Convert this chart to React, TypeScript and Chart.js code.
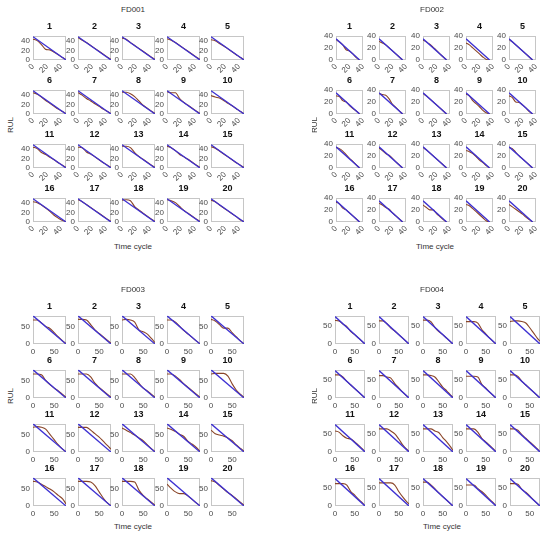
import React, { useEffect, useRef } from 'react';
import { Chart, registerables } from 'chart.js';
Chart.register(...registerables);

const FONT = '"Liberation Sans", Arial, Helvetica, sans-serif';

// ---------- FD001 ----------
const FD001_X = [0, 6, 12, 18, 24, 30, 36, 42, 47];
const FD001_TRUE_X = [0, 47];
const FD001_TRUE_Y = [48, 0];
const FD001_XTICKS = [0, 20, 40];
const FD001_YTICKS = [0, 20, 40];
const FD001_PRED = [
  [43, 40, 32, 22, 21, 16, 11, 5, 1],
  [46, 41, 36, 30, 24, 18, 12, 6, 1],
  [45, 43, 36, 30, 24, 18, 12, 6, 1],
  [44, 41, 36, 30, 24, 18, 12, 6, 1],
  [42, 40, 34, 29, 23, 17, 11, 5, 1],
  [44, 41, 35, 28, 22, 16, 10, 5, 1],
  [44, 39, 32, 27, 21, 16, 10, 5, 1],
  [45, 45, 42, 36, 27, 18, 12, 6, 1],
  [46, 44, 44, 32, 24, 18, 12, 6, 1],
  [38, 35, 33, 28, 22, 17, 11, 5, 1],
  [43, 40, 32, 28, 22, 17, 11, 6, 1],
  [43, 42, 33, 29, 23, 17, 11, 6, 1],
  [45, 45, 42, 32, 24, 18, 12, 6, 1],
  [45, 42, 36, 28, 23, 18, 12, 6, 1],
  [44, 41, 35, 29, 23, 17, 11, 6, 1],
  [42, 40, 35, 29, 22, 14, 8, 3, 1],
  [46, 42, 36, 30, 24, 18, 12, 6, 1],
  [45, 46, 44, 32, 25, 18, 12, 6, 1],
  [46, 44, 40, 32, 24, 18, 12, 6, 1],
  [45, 42, 35, 29, 23, 17, 11, 4, 1],
];

// ---------- FD002 ----------
const FD002_X = [0, 5, 10, 15, 20, 25, 30, 35];
const FD002_TRUE_X = [0, 35];
const FD002_TRUE_Y = [35, 0];
const FD002_XTICKS = [0, 20, 40];
const FD002_YTICKS = [0, 20, 40];
const FD002_PRED = [
  [34, 30, 25, 17, 15, 10, 4, 0],
  [31, 28, 25, 20, 15, 10, 5, 0],
  [33, 30, 26, 21, 16, 10, 5, 0],
  [28, 25, 20, 15, 10, 5, 1, 0],
  [34, 30, 25, 20, 15, 10, 5, 0],
  [30, 29, 22, 20, 14, 9, 5, 0],
  [34, 32, 31, 25, 16, 11, 5, 0],
  [34, 30, 25, 20, 15, 10, 5, 0],
  [33, 30, 22, 17, 12, 6, 2, 0],
  [30, 27, 20, 19, 15, 10, 4, 0],
  [34, 32, 28, 22, 16, 11, 5, 0],
  [33, 29, 24, 21, 16, 10, 5, 0],
  [34, 30, 25, 20, 15, 10, 5, 0],
  [29, 27, 24, 19, 13, 9, 4, 0],
  [34, 32, 26, 20, 15, 10, 5, 0],
  [33, 30, 23, 20, 15, 10, 5, 0],
  [31, 28, 24, 21, 15, 10, 5, 0],
  [28, 24, 20, 20, 14, 9, 4, 0],
  [29, 27, 22, 17, 12, 7, 2, 0],
  [29, 25, 21, 17, 13, 8, 4, 0],
];

// ---------- FD003 ----------
const FD003_X = [0, 10, 20, 30, 40, 50, 60, 70, 78];
const FD003_TRUE_X = [0, 78];
const FD003_TRUE_Y = [80, 0];
const FD003_XTICKS = [0, 50];
const FD003_YTICKS = [0, 50];
const FD003_PRED = [
  [68, 68, 60, 50, 44, 32, 20, 9, 1],
  [70, 70, 68, 55, 40, 30, 20, 10, 2],
  [68, 70, 68, 62, 40, 35, 28, 15, 4],
  [68, 68, 62, 50, 38, 28, 18, 8, 1],
  [70, 65, 55, 45, 45, 32, 20, 8, 1],
  [68, 68, 66, 50, 38, 28, 20, 10, 2],
  [68, 68, 68, 60, 42, 30, 20, 10, 2],
  [68, 68, 68, 58, 42, 28, 20, 10, 2],
  [68, 68, 62, 52, 40, 30, 20, 10, 2],
  [68, 70, 70, 70, 62, 40, 22, 10, 2],
  [70, 72, 70, 65, 50, 35, 20, 8, 1],
  [70, 70, 70, 62, 52, 42, 30, 18, 8],
  [68, 62, 55, 48, 40, 32, 20, 9, 1],
  [68, 64, 58, 50, 44, 30, 22, 12, 2],
  [62, 52, 48, 45, 40, 32, 20, 10, 2],
  [70, 68, 62, 55, 48, 40, 30, 20, 6],
  [70, 70, 70, 68, 58, 40, 22, 8, 1],
  [70, 70, 70, 68, 45, 30, 20, 10, 2],
  [62, 50, 40, 35, 35, 28, 18, 8, 1],
  [72, 68, 58, 48, 38, 30, 20, 10, 2],
];

// ---------- FD004 ----------
const FD004_X = [0, 10, 20, 30, 40, 50, 60, 70, 76];
const FD004_TRUE_X = [0, 76];
const FD004_TRUE_Y = [76, 0];
const FD004_XTICKS = [0, 50];
const FD004_YTICKS = [0, 50];
const FD004_PRED = [
  [65, 64, 55, 48, 34, 26, 16, 6, 0],
  [64, 64, 56, 44, 36, 26, 16, 6, 0],
  [66, 66, 62, 46, 34, 26, 16, 6, 0],
  [62, 62, 62, 58, 40, 28, 16, 6, 0],
  [62, 64, 64, 62, 58, 45, 30, 15, 8],
  [64, 64, 58, 46, 36, 26, 16, 6, 0],
  [62, 62, 58, 55, 40, 28, 16, 6, 0],
  [64, 64, 62, 58, 45, 30, 20, 8, 2],
  [60, 60, 60, 58, 38, 28, 16, 6, 0],
  [64, 64, 60, 46, 36, 26, 16, 6, 0],
  [58, 55, 45, 38, 36, 28, 18, 8, 0],
  [64, 64, 64, 58, 50, 36, 20, 8, 2],
  [64, 64, 64, 58, 54, 40, 28, 14, 4],
  [64, 64, 64, 55, 38, 28, 18, 8, 0],
  [64, 64, 60, 48, 38, 28, 18, 8, 0],
  [62, 62, 62, 58, 40, 30, 18, 8, 0],
  [64, 64, 64, 64, 58, 40, 25, 12, 6],
  [66, 66, 58, 48, 36, 26, 16, 6, 0],
  [58, 58, 58, 48, 40, 30, 18, 8, 0],
  [62, 62, 60, 46, 38, 28, 16, 6, 0],
];

const SUB_TITLES = Array.from({ length: 20 }, (_, i) => String(i + 1));

type Panel = {
  name: string;
  x: number[]; trueX: number[]; trueY: number[]; pred: number[][];
  xTicks: number[]; yTicks: number[]; xMax: number; yMax: number; rotate: boolean;
  left0: number; colStep: number; w: number; top0: number; rowStep: number; h: number;
  titleX: number; titleY: number; rulX: number; rulY: number; timeX: number; timeY: number;
};

const PANELS: Panel[] = [
  { name: 'FD001', x: FD001_X, trueX: FD001_TRUE_X, trueY: FD001_TRUE_Y, pred: FD001_PRED,
    xTicks: FD001_XTICKS, yTicks: FD001_YTICKS, xMax: 47, yMax: 50, rotate: true,
    left0: 33.3, colStep: 44.4, w: 32.5, top0: 31.7, rowStep: 54.1, h: 28.3,
    titleX: 133, titleY: 10, rulX: 11, rulY: 125, timeX: 133, timeY: 247 },
  { name: 'FD002', x: FD002_X, trueX: FD002_TRUE_X, trueY: FD002_TRUE_Y, pred: FD002_PRED,
    xTicks: FD002_XTICKS, yTicks: FD002_YTICKS, xMax: 40, yMax: 40, rotate: true,
    left0: 336, colStep: 43.3, w: 27.3, top0: 31.7, rowStep: 54.1, h: 28.3,
    titleX: 432, titleY: 10, rulX: 315, rulY: 125, timeX: 435, timeY: 247 },
  { name: 'FD003', x: FD003_X, trueX: FD003_TRUE_X, trueY: FD003_TRUE_Y, pred: FD003_PRED,
    xTicks: FD003_XTICKS, yTicks: FD003_YTICKS, xMax: 78, yMax: 80, rotate: false,
    left0: 33.3, colStep: 44.4, w: 32.5, top0: 312, rowStep: 54.1, h: 31.5,
    titleX: 133, titleY: 290, rulX: 11, rulY: 396, timeX: 133, timeY: 527 },
  { name: 'FD004', x: FD004_X, trueX: FD004_TRUE_X, trueY: FD004_TRUE_Y, pred: FD004_PRED,
    xTicks: FD004_XTICKS, yTicks: FD004_YTICKS, xMax: 76, yMax: 78, rotate: false,
    left0: 335, colStep: 43.75, w: 30, top0: 312, rowStep: 54.1, h: 31.5,
    titleX: 432, titleY: 290, rulX: 315, rulY: 396, timeX: 442, timeY: 527 },
];

const ML = 26, MT = 4, MR = 12, MB = 22;

const boxPlugin = {
  id: 'box',
  beforeDatasetsDraw(c: any) {
    const { ctx, chartArea: a } = c;
    ctx.save();
    ctx.strokeStyle = '#c6c6c6';
    ctx.lineWidth = 1;
    ctx.strokeRect(Math.round(a.left) + 0.5, Math.round(a.top) + 0.5, Math.round(a.width) - 1, Math.round(a.height) - 1);
    ctx.restore();
  },
};

function Sub({ p, i }: { p: Panel; i: number }) {
  const ref = useRef<HTMLCanvasElement>(null);
  const col = i % 5, row = Math.floor(i / 5);
  const bl = Math.round(p.left0 + col * p.colStep);
  const bt = Math.round(p.top0 + row * p.rowStep);
  const w = Math.round(p.w), h = Math.round(p.h);
  useEffect(() => {
    const chart = new Chart(ref.current as HTMLCanvasElement, {
      type: 'line',
      data: {
        datasets: [
          { data: p.trueX.map((x, k) => ({ x, y: p.trueY[k] })), borderColor: '#3d30d2', borderWidth: 1.3, pointRadius: 0 },
          { data: p.x.map((x, k) => ({ x, y: p.pred[i][k] })), borderColor: '#8a4528', borderWidth: 1.1, pointRadius: 0, cubicInterpolationMode: 'monotone' },
        ],
      } as any,
      options: {
        animation: false,
        responsive: false,
        events: [],
        layout: { autoPadding: false, padding: { left: 0, top: MT, right: MR, bottom: 0 } },
        plugins: { legend: { display: false }, tooltip: { enabled: false }, title: { display: false } },
        scales: {
          x: {
            type: 'linear', min: 0, max: p.xMax,
            grid: { display: false, drawTicks: false }, border: { display: false },
            afterBuildTicks: (s: any) => { s.ticks = p.xTicks.map((v) => ({ value: v })); },
            afterFit: (s: any) => { s.height = MB; },
            ticks: { font: { size: 8, family: FONT }, color: '#4a4a4a', padding: p.rotate ? 2 : 3,
              minRotation: p.rotate ? 45 : 0, maxRotation: p.rotate ? 45 : 0, autoSkip: false },
          },
          y: {
            type: 'linear', min: 0, max: p.yMax,
            grid: { display: false, drawTicks: false }, border: { display: false },
            afterBuildTicks: (s: any) => { s.ticks = p.yTicks.map((v) => ({ value: v })); },
            afterFit: (s: any) => { s.width = ML; },
            ticks: { font: { size: 8, family: FONT }, color: '#4a4a4a', padding: 3, autoSkip: false },
          },
        },
      } as any,
      plugins: [boxPlugin],
    });
    return () => chart.destroy();
  }, []);
  return (
    <>
      <canvas
        ref={ref}
        width={w + ML + MR}
        height={h + MT + MB}
        style={{ position: 'absolute', left: bl - ML, top: bt - MT, width: w + ML + MR, height: h + MT + MB }}
      />
      <div style={{ position: 'absolute', left: bl, top: bt - 11, width: w, textAlign: 'center', fontSize: 9, fontWeight: 'bold', lineHeight: '10px', color: '#111', fontFamily: FONT }}>
        {SUB_TITLES[i]}
      </div>
    </>
  );
}

function Label({ x, y, text, rot }: { x: number; y: number; text: string; rot?: boolean }) {
  return (
    <div style={{ position: 'absolute', left: x, top: y, transform: `translate(-50%, -50%)${rot ? ' rotate(-90deg)' : ''}`,
      fontSize: 8, fontFamily: FONT, color: '#333', whiteSpace: 'nowrap', lineHeight: '10px' }}>
      {text}
    </div>
  );
}

export default function App() {
  return (
    <div style={{ position: 'fixed', left: 0, top: 0, width: 550, height: 536, background: '#fff', overflow: 'hidden' }}>
      {PANELS.map((p) => (
        <React.Fragment key={p.name}>
          <Label x={p.titleX} y={p.titleY} text={p.name} />
          <Label x={p.rulX} y={p.rulY} text="RUL" rot />
          <Label x={p.timeX} y={p.timeY} text="Time cycle" />
          {SUB_TITLES.map((_, i) => <Sub key={i} p={p} i={i} />)}
        </React.Fragment>
      ))}
    </div>
  );
}
